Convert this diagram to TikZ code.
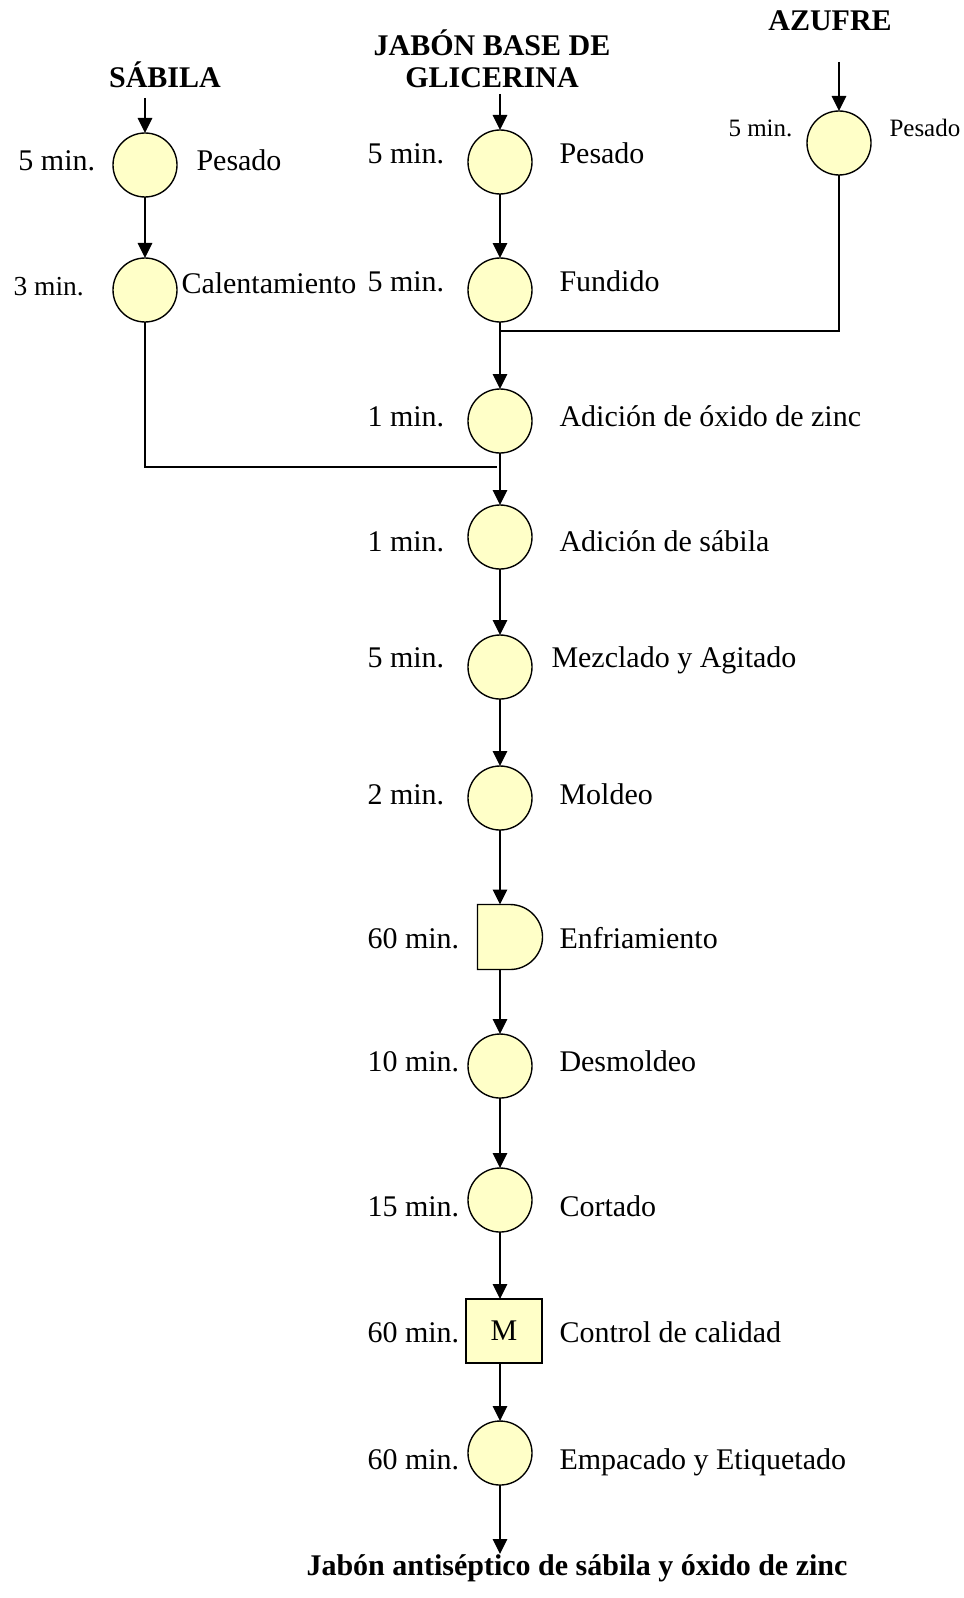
\documentclass[tikz,border=0pt]{standalone}
\usepackage{fontspec}
\setmainfont{Liberation Serif}
\usetikzlibrary{arrows.meta,positioning}
\definecolor{procfill}{HTML}{FFFFC8}

\begin{document}
\begin{tikzpicture}[
        x=0.4pt, y=-0.4pt,
        >={Triangle[length=6pt,width=5.8pt]},
        node distance=26pt and 10pt,
        proc/.style={
            draw,
            circle,
            line width=0.55pt,
            fill=procfill,
            inner sep=0pt,
            outer sep=0pt,
            minimum size=25.6pt
        },
        insp/.style={
            draw,
            line width=0.55pt,
            fill=procfill,
            inner sep=0pt,
            outer sep=0pt,
            minimum width=30.4pt,
            minimum height=25.6pt,
            font=\fontsize{12pt}{14pt}\selectfont
        },
        holder/.style={
            inner sep=0pt,
            outer sep=0pt,
            minimum width=26pt,
            minimum height=26pt
        },
        timelbl/.style={anchor=base west, inner sep=0pt, font=\fontsize{12pt}{14pt}\selectfont},
        smalllbl/.style={anchor=base west, inner sep=0pt, font=\fontsize{10pt}{12pt}\selectfont},
        head/.style={align=center, inner sep=0pt, font=\fontsize{12pt}{13pt}\selectfont\bfseries},
        flow/.style={->, line width=0.55pt},
        link/.style={line width=0.55pt}
    ]
        \useasboundingbox (0,0) rectangle (964,1598);

        % Columnas de etiquetas
        \coordinate (tcol) at (367,0);
        \coordinate (dcol) at (559,0);

        % Materias primas
        \node[head, anchor=base] (sabh) at (165,88) {SÁBILA};
        \node[head] (glih) at (492,59) {JABÓN BASE DE\\GLICERINA};
        \node[head, anchor=base] (azuh) at (830,31) {AZUFRE};
        \coordinate (sabin) at (145,98);
        \coordinate (gliin) at (500,94);
        \coordinate (azuin) at (839,62);

        % Rama de la sábila
        \node[proc] (spes) at (145,165) {};
        \node[proc] (scal) at (145,290) {};
        \node[timelbl] at (18,171) {5 min.};
        \node[timelbl] at (196,171) {Pesado};
        \node[timelbl, font=\fontsize{11pt}{13pt}\selectfont] at (13,296) {3 min.};
        \node[timelbl] at (181,294) {Calentamiento};

        % Rama del azufre
        \node[proc] (apes) at (839,143) {};
        \node[smalllbl] at (728,137) {5 min.};
        \node[smalllbl] at (889,137) {Pesado};

        % Flujo principal
        \node[proc] (pes) at (500,162) {};
        \node[proc, below=25.6pt of pes] (fun) {};
        \node[proc, below=26.8pt of fun] (oxi) {};
        \node[proc, below=20.8pt of oxi] (sab) {};
        \node[proc, below=26.4pt of sab] (mez) {};
        \node[proc, below=26.8pt of mez] (mol) {};
        \node[holder, below=29.8pt of mol, xshift=4pt] (enf) {};
        \node[proc, below=25.8pt of enf, xshift=-4pt] (des) {};
        \node[proc, below=28pt of des] (cor) {};
        \node[insp, below=26.8pt of cor, xshift=1.6pt] (con) {M};
        \node[proc, below=23.2pt of con, xshift=-1.6pt] (emp) {};
        \node[head, anchor=base] (fin) at (577,1575) {Jabón antiséptico de sábila y óxido de zinc};

        % Almacenamiento temporal (enfriamiento)
        \draw[line width=0.55pt, fill=procfill] (enf.north west) -- (enf.north)
            arc[start angle=90, end angle=-90, radius=13pt] -- (enf.south west) -- cycle;

        % Tiempos y operaciones
        \node[timelbl, yshift=-0.8pt] at (tcol |- pes) {5 min.};
        \node[timelbl, yshift=-0.8pt] at (dcol |- pes) {Pesado};
        \node[timelbl, yshift=-0.6pt] at (tcol |- fun) {5 min.};
        \node[timelbl, yshift=-0.6pt] at (dcol |- fun) {Fundido};
        \node[timelbl, yshift=-2pt] at (tcol |- oxi) {1 min.};
        \node[timelbl, yshift=-2pt] at (dcol |- oxi) {Adición de óxido de zinc};
        \node[timelbl, yshift=-5.6pt] at (tcol |- sab) {1 min.};
        \node[timelbl, yshift=-5.6pt] at (dcol |- sab) {Adición de sábila};
        \node[timelbl, yshift=0pt] at (tcol |- mez) {5 min.};
        \node[timelbl, yshift=0pt, xshift=-3.2pt] at (dcol |- mez) {Mezclado y Agitado};
        \node[timelbl, yshift=-2.4pt] at (tcol |- mol) {2 min.};
        \node[timelbl, yshift=-2.4pt] at (dcol |- mol) {Moldeo};
        \node[timelbl, yshift=-4.4pt] at (tcol |- enf) {60 min.};
        \node[timelbl, yshift=-4.4pt] at (dcol |- enf) {Enfriamiento};
        \node[timelbl, yshift=-2pt] at (tcol |- des) {10 min.};
        \node[timelbl, yshift=-2pt] at (dcol |- des) {Desmoldeo};
        \node[timelbl, yshift=-6.4pt] at (tcol |- cor) {15 min.};
        \node[timelbl, yshift=-6.4pt] at (dcol |- cor) {Cortado};
        \node[timelbl, yshift=-4.4pt] at (tcol |- con) {60 min.};
        \node[timelbl, yshift=-4.4pt] at (dcol |- con) {Control de calidad};
        \node[timelbl, yshift=-6.4pt] at (tcol |- emp) {60 min.};
        \node[timelbl, yshift=-6.4pt] at (dcol |- emp) {Empacado y Etiquetado};

        % Uniones de las ramas
        \coordinate (jazu) at (500,331);
        \coordinate (jsab) at (497,467);
        \coordinate (finin) at (500,1554);

        % Conectores
        \draw[flow] (sabin) -- (spes);
        \draw[flow] (spes) -- (scal);
        \draw[flow] (gliin) -- (pes);
        \draw[flow] (azuin) -- (apes);
        \draw[link] (apes) |- (jazu);
        \draw[link] (scal) |- (jsab);

        \draw[flow] (pes) -- (fun);
        \draw[flow] (fun) -- (oxi);
        \draw[flow] (oxi) -- (sab);
        \draw[flow] (sab) -- (mez);
        \draw[flow] (mez) -- (mol);
        \draw[flow] (mol) -- (mol |- enf.north);
        \draw[flow] (des |- enf.south) -- (des);
        \draw[flow] (des) -- (cor);
        \draw[flow] (cor) -- (cor |- con.north);
        \draw[flow] (emp |- con.south) -- (emp);
        \draw[flow] (emp) -- (finin);
    \end{tikzpicture}
\end{document}
